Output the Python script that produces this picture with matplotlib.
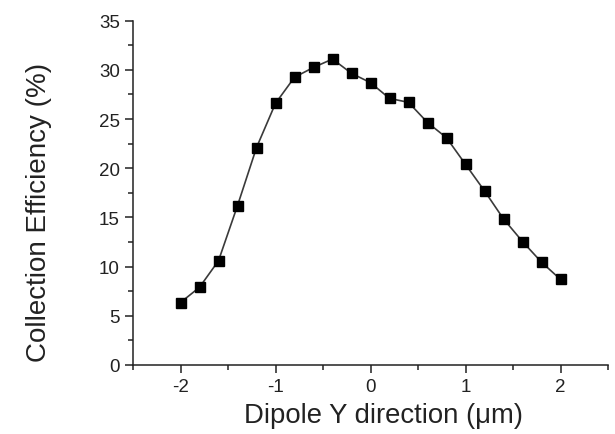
import matplotlib
matplotlib.use('Agg')
import matplotlib.pyplot as plt
from matplotlib.ticker import MultipleLocator

plt.rcParams['font.family'] = ['Liberation Sans', 'DejaVu Sans']
plt.rcParams['axes.unicode_minus'] = False

# dipole position along Y (um) and collection efficiency (%)
y_pos = [-2.0, -1.8, -1.6, -1.4, -1.2, -1.0, -0.8, -0.6, -0.4, -0.2, 0.0,
         0.2, 0.4, 0.6, 0.8, 1.0, 1.2, 1.4, 1.6, 1.8, 2.0]
efficiency = [6.35, 7.9, 10.6, 16.2, 22.1, 26.6, 29.25, 30.25, 31.1, 29.65, 28.7,
              27.1, 26.7, 24.65, 23.1, 20.4, 17.7, 14.85, 12.55, 10.45, 8.7]

fig = plt.figure(figsize=(6.15, 4.35), dpi=100)
ax = fig.add_axes([133/615, 1 - 366/435, (608-133)/615, (366-21.7)/435])

ax.plot(y_pos, efficiency, color='#3a3a3a', linewidth=1.2, marker='s',
        markersize=6.8, markerfacecolor='black', markeredgecolor='black')

ax.set_xlim(-2.5, 2.5)
ax.set_ylim(0, 35)
ax.xaxis.set_major_locator(MultipleLocator(1))
ax.xaxis.set_minor_locator(MultipleLocator(0.5))
ax.yaxis.set_major_locator(MultipleLocator(5))
ax.yaxis.set_minor_locator(MultipleLocator(2.5))
ax.tick_params(which='major', direction='out', length=6, width=1.1,
               labelsize=13.5, pad=3.5, colors='#222222')
ax.tick_params(which='minor', direction='out', length=3.5, width=1.1, colors='#222222')

for side in ['top', 'right']:
    ax.spines[side].set_visible(False)
for side in ['left', 'bottom']:
    ax.spines[side].set_linewidth(1.1)
    ax.spines[side].set_color('#222222')

ax.set_xlabel('Dipole Y direction (\u03bcm)', fontsize=19.8, color='#222222')
ax.set_ylabel('Collection Efficiency (%)', fontsize=20, color='#222222')
ax.xaxis.set_label_coords(0.528, -0.107)
ax.yaxis.set_label_coords(-0.17, 0.447)

fig.savefig('out.png', dpi=100)
